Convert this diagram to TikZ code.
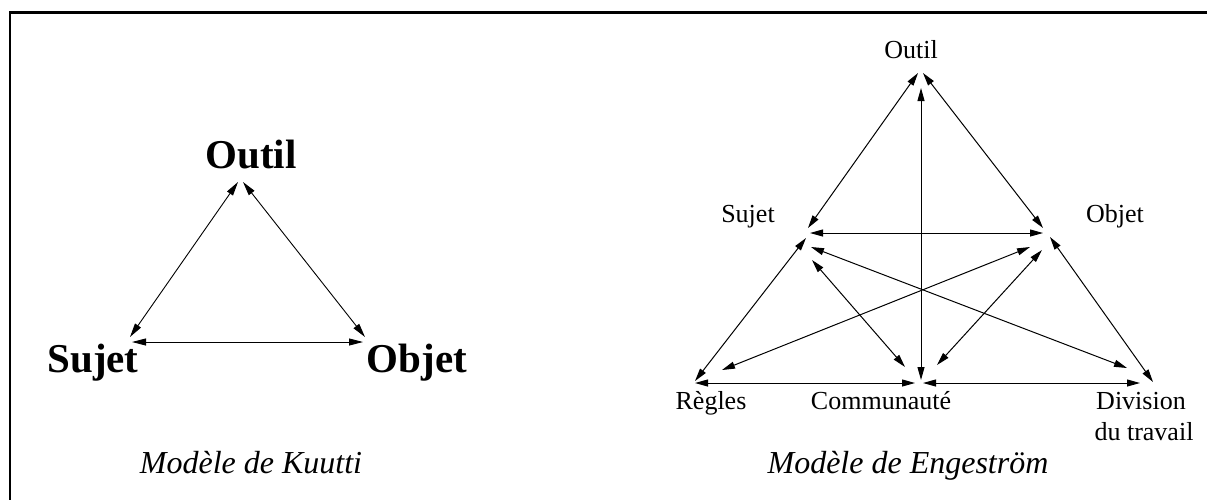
\documentclass[tikz,border=0pt]{standalone}
\usepackage{fontspec}
\setmainfont{Liberation Serif}
\usetikzlibrary{arrows.meta}
\tikzset{
  arr/.style={{Triangle[length=13pt,width=7pt]}-{Triangle[length=13pt,width=7pt]}, line width=1pt},
  bigarr/.style={{Triangle[length=14pt,width=7pt]}-{Triangle[length=14pt,width=7pt]}, line width=0.9pt},
  biglab/.style={anchor=base, inner sep=0pt, font=\fontsize{41}{44}\selectfont\bfseries},
  lab/.style={anchor=base, inner sep=0pt, font=\fontsize{26}{28}\selectfont},
  captext/.style={anchor=base, inner sep=0pt, font=\fontsize{32}{34}\selectfont\itshape},
  frameline/.style={line width=2.6pt, line cap=rect}
}
\begin{document}
\begin{tikzpicture}[x=1pt,y=-1pt]
\useasboundingbox (0,0) rectangle (1207,499);
% frame (top and left only)
\coordinate (FL) at (10,499);
\coordinate (FC) at (10,12.5);
\coordinate (FR) at (1208,12.5);
\draw[frameline] (FL) -- (FC) -- (FR);

% ---------------- Kuutti ----------------
\node[biglab] (kO) at (251,168) {Outil};
\node[biglab] (kS) at (93,372) {Sujet};
\node[biglab] (kB) at (417,372) {Objet};
\node[captext] (kT) at (251,473) {Modèle de Kuutti};

\coordinate (kO1) at (238,182);
\coordinate (kO2) at (243,182);
\coordinate (kS1) at (130,337);
\coordinate (kS2) at (132,342);
\coordinate (kB1) at (365,337);
\coordinate (kB2) at (363,342);
\draw[bigarr] (kO1) -- (kS1);
\draw[bigarr] (kO2) -- (kB1);
\draw[bigarr] (kS2) -- (kB2);

% ---------------- Engestrom ----------------
\node[lab] (eO) at (911,58) {Outil};
\node[lab] (eS) at (748,222) {Sujet};
\node[lab] (eB) at (1115,222) {Objet};
\node[lab] (eR) at (711,409) {Règles};
\node[lab] (eC) at (881,409) {Communauté};
\node[lab] (eD) at (1141,409) {Division};
\node[lab] (eD2) at (1144,440) {du travail};
\node[captext] (eT) at (908,473) {Modèle de Engeström};

% endpoints
\coordinate (O1) at (918,73);
\coordinate (O2) at (923,73);
\coordinate (O3) at (921,88);
\coordinate (S1) at (808,228);
\coordinate (S2) at (810,233);
\coordinate (S3) at (806,238);
\coordinate (S4) at (811,247);
\coordinate (S5) at (812,260);
\coordinate (B1) at (1043,228);
\coordinate (B2) at (1043,233);
\coordinate (B3) at (1050,237);
\coordinate (B4) at (1030,247);
\coordinate (B5) at (1042,250);
\coordinate (R1) at (695,381);
\coordinate (R2) at (722,370);
\coordinate (R3) at (695,383);
\coordinate (C1) at (905,367);
\coordinate (C2) at (921,380);
\coordinate (C3) at (937,365);
\coordinate (C4) at (915,383);
\coordinate (C5) at (923,383);
\coordinate (D1) at (1127,368);
\coordinate (D2) at (1153,382);
\coordinate (D3) at (1140,383);

\draw[arr] (O1) -- (S1);
\draw[arr] (O2) -- (B1);
\draw[arr] (O3) -- (C2);
\draw[arr] (S2) -- (B2);
\draw[arr] (S3) -- (R1);
\draw[arr] (S4) -- (D1);
\draw[arr] (S5) -- (C1);
\draw[arr] (B3) -- (D2);
\draw[arr] (B4) -- (R2);
\draw[arr] (B5) -- (C3);
\draw[arr] (R3) -- (C4);
\draw[arr] (C5) -- (D3);
\end{tikzpicture}
\end{document}
